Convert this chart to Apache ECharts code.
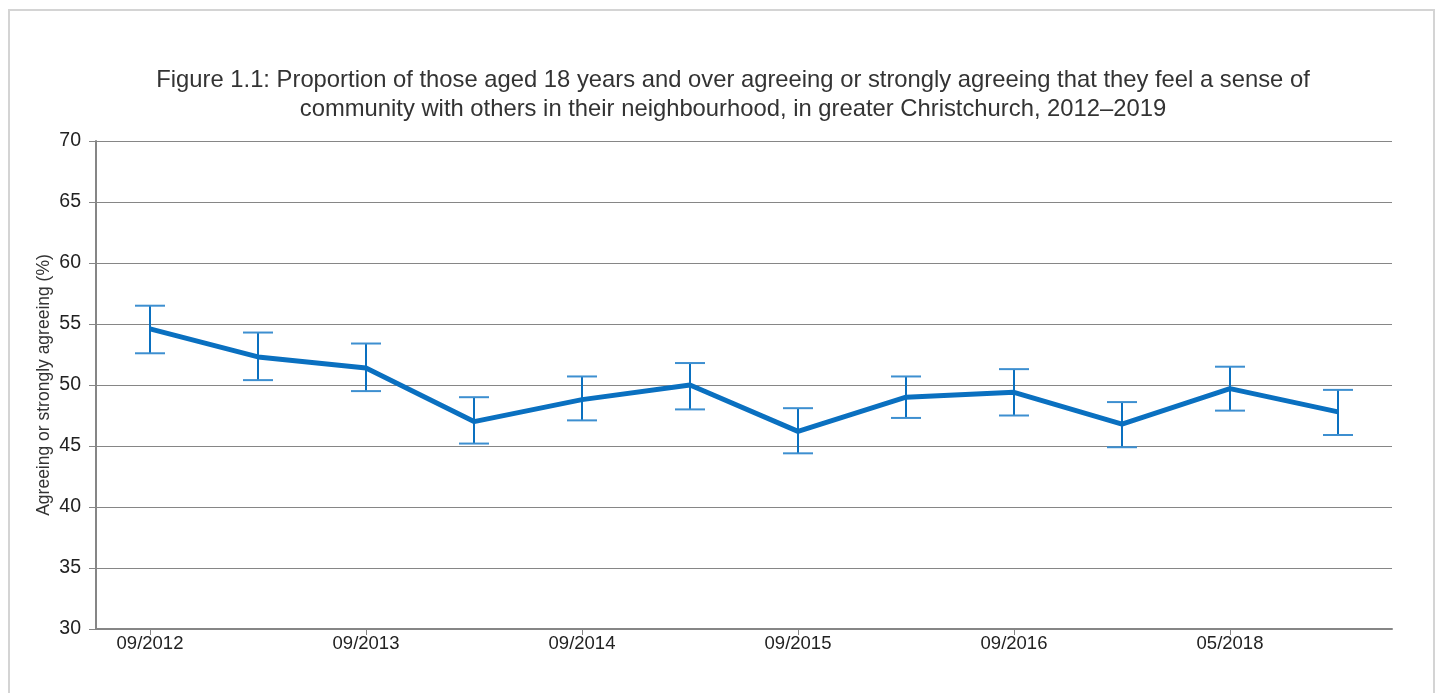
<!DOCTYPE html>
<html><head><meta charset="utf-8">
<script src="https://cdn.jsdelivr.net/npm/echarts@6/dist/echarts.min.js"></script>
<style>
html,body{margin:0;padding:0;background:#fff;}
#frame{position:absolute;left:8px;top:9px;width:1427px;height:700px;border:2px solid #d4d4d4;box-sizing:border-box;}
#c{position:absolute;left:0;top:0;width:1441px;height:693px;}
</style></head>
<body>
<div id="frame"></div>
<div id="c"></div>
<script>
var categories = ['09/2012','03/2013','09/2013','03/2014','09/2014','03/2015','09/2015','03/2016','09/2016','09/2017','05/2018','05/2019'];
var values = [54.6, 52.3, 51.4, 47.0, 48.8, 50.0, 46.2, 49.0, 49.4, 46.8, 49.7, 47.8];
var upper  = [56.5, 54.3, 53.4, 49.0, 50.7, 51.8, 48.1, 50.7, 51.3, 48.6, 51.5, 49.6];
var lower  = [52.6, 50.4, 49.5, 45.2, 47.1, 48.0, 44.4, 47.3, 47.5, 44.9, 47.9, 45.9];
var yTicks = [30, 35, 40, 45, 50, 55, 60, 65, 70];

var chart = echarts.init(document.getElementById('c'));
var errData = categories.map(function(c, i){ return [i, lower[i], upper[i]]; });
var blue = '#0a70c0';
chart.setOption({
  animation: false,
  backgroundColor: 'transparent',
  title: {
    text: 'Figure 1.1: Proportion of those aged 18 years and over agreeing or strongly agreeing that they feel a sense of\ncommunity with others in their neighbourhood, in greater Christchurch, 2012\u20132019',
    left: 728, top: 61, textAlign: 'center',
    textStyle: {fontFamily: 'Liberation Sans', fontSize: 23.8, fontWeight: 'normal', color: '#333', lineHeight: 29}
  },
  grid: {left: 96, right: 49, top: 141, bottom: 64},
  xAxis: {
    type: 'category', data: categories, boundaryGap: true,
    axisLine: {lineStyle: {color: '#868686', width: 2}},
    axisTick: {show: true, alignWithLabel: true, interval: 1, length: 6, lineStyle: {color: '#868686'}},
    axisLabel: {interval: 1, color: '#222', fontFamily: 'Liberation Sans', fontSize: 18.5, margin: 5}
  },
  yAxis: {
    type: 'value', min: yTicks[0], max: yTicks[yTicks.length-1], interval: 5,
    name: 'Agreeing or strongly agreeing (%)', nameLocation: 'middle', nameGap: 43,
    nameMoveOverlap: false,
    nameTextStyle: {fontFamily: 'Liberation Sans', fontSize: 17.5, color: '#333'},
    axisLine: {show: true, lineStyle: {color: '#868686', width: 2}},
    axisTick: {show: true, length: 7, lineStyle: {color: '#868686'}},
    axisLabel: {color: '#222', fontFamily: 'Liberation Sans', fontSize: 19.5, margin: 15},
    splitLine: {lineStyle: {color: '#868686', width: 1}}
  },
  series: [{
    type: 'line', data: values, symbol: 'none',
    lineStyle: {color: blue, width: 5}, z: 3
  },{
    type: 'custom', data: errData, z: 4,
    renderItem: function(params, api){
      var x = api.value(0);
      var lo = api.coord([x, api.value(1)]);
      var hi = api.coord([x, api.value(2)]);
      var hw = 15;
      var st = {stroke: blue, lineWidth: 2, fill: null};
      var cap = {stroke: '#3d8fd0', lineWidth: 2, fill: null};
      return {type: 'group', children: [
        {type: 'line', shape: {x1: hi[0], y1: hi[1], x2: lo[0], y2: lo[1]}, style: st},
        {type: 'line', shape: {x1: hi[0]-hw, y1: hi[1], x2: hi[0]+hw, y2: hi[1]}, style: cap},
        {type: 'line', shape: {x1: lo[0]-hw, y1: lo[1], x2: lo[0]+hw, y2: lo[1]}, style: cap}
      ]};
    }
  }]
});
</script>
</body></html>
